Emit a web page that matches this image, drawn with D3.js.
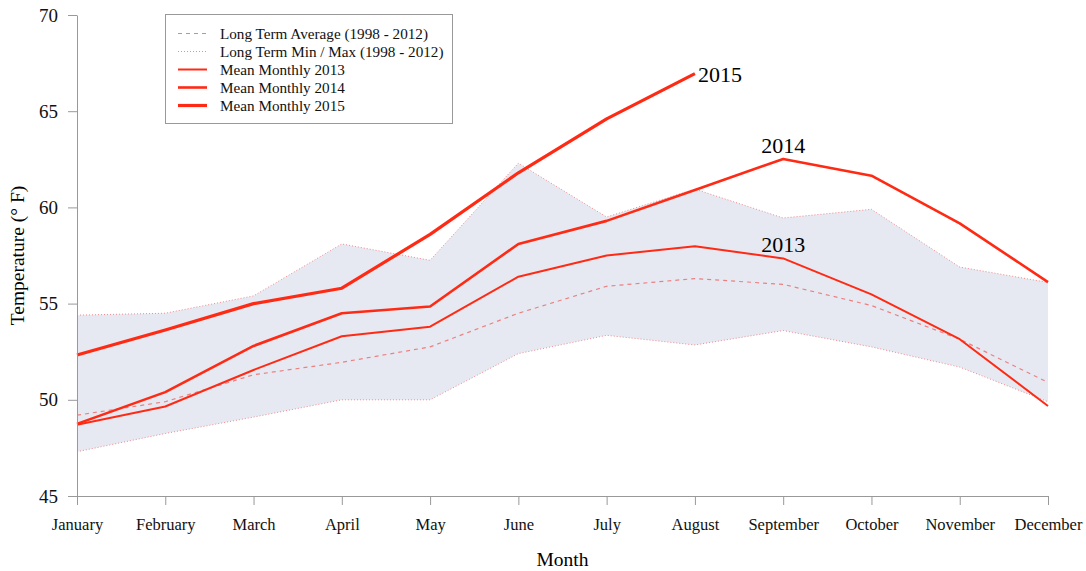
<!DOCTYPE html>
<html>
<head>
<meta charset="utf-8">
<script src="https://cdn.jsdelivr.net/npm/d3@7"></script>
<style>
  body { margin: 0; background: #fff; }
  svg { font-family: "Liberation Serif", "DejaVu Serif", serif; }
</style>
</head>
<body>
<div id="chart"></div>
<script>
// month names along the bottom
let months = ['January', 'February', 'March', 'April', 'May', 'June',
    'July', 'August', 'September', 'October', 'November', 'December'];

// long term stats 1998 - 2012
let ltAverage = [49.2, 49.9, 51.3, 51.95, 52.75, 54.5, 55.9, 56.3, 56.0, 54.9, 53.15, 50.9];
let ltMin = [47.3, 48.25, 49.1, 50.0, 50.0, 52.4, 53.35, 52.85, 53.6, 52.75, 51.7, 49.9];
let ltMax = [54.4, 54.5, 55.4, 58.1, 57.25, 62.3, 59.5, 60.95, 59.45, 59.9, 56.9, 56.1];

// mean monthly values
let mean2013 = [48.7, 49.65, 51.55, 53.3, 53.8, 56.4, 57.5, 57.98, 57.35, 55.48, 53.15, 49.68];
let mean2014 = [48.75, 50.4, 52.8, 54.5, 54.85, 58.1, 59.3, 60.9, 62.52, 61.65, 59.17, 56.12];
let mean2015 = [52.33, 53.63, 55.0, 55.8, 58.6, 61.8, 64.6, 66.95];

let yTicks = [45, 50, 55, 60, 65, 70];

let width = 1086;
let height = 571;
let margin = { top: 15, right: 38, bottom: 75, left: 77 };

let red = '#ff2a14';

let svg = d3.select('#chart')
    .append('svg')
    .attr('width', width)
    .attr('height', height);

let x = d3.scalePoint()
    .domain(months)
    .range([margin.left, width - margin.right]);

let y = d3.scaleLinear()
    .domain([45, 70])
    .range([height - margin.bottom, margin.top]);

// shaded min / max band
let area = d3.area()
    .x((d, i) => x(months[i]))
    .y0((d, i) => y(ltMin[i]))
    .y1(d => y(d));

svg.append('path')
    .datum(ltMax)
    .attr('d', area)
    .attr('fill', '#e6e9f2');

let line = d3.line()
    .x((d, i) => x(months[i]))
    .y(d => y(d));

// min / max dotted edges
[ltMin, ltMax].forEach(s => {
    svg.append('path')
        .datum(s)
        .attr('d', line)
        .attr('fill', 'none')
        .attr('stroke', '#f28a8a')
        .attr('stroke-width', 1)
        .attr('stroke-dasharray', '1 2');
});

// long term average
svg.append('path')
    .datum(ltAverage)
    .attr('d', line)
    .attr('fill', 'none')
    .attr('stroke', '#ec8080')
    .attr('stroke-width', 1.2)
    .attr('stroke-dasharray', '4 4');

// yearly lines, thicker for later years
let years = [
    { name: '2013', values: mean2013, w: 2 },
    { name: '2014', values: mean2014, w: 2.6 },
    { name: '2015', values: mean2015, w: 3.2 }
];

years.forEach(yr => {
    svg.append('path')
        .datum(yr.values)
        .attr('d', line)
        .attr('fill', 'none')
        .attr('stroke', red)
        .attr('stroke-width', yr.w)
        .attr('stroke-linejoin', 'round');
});

// year labels next to the lines
svg.append('text')
    .text('2015')
    .attr('x', x('August') + 3)
    .attr('y', y(mean2015[7]) + 8)
    .style('font-size', '22px');

svg.append('text')
    .text('2014')
    .attr('text-anchor', 'middle')
    .attr('x', x('September'))
    .attr('y', y(mean2014[8]) - 6)
    .style('font-size', '22px');

svg.append('text')
    .text('2013')
    .attr('text-anchor', 'middle')
    .attr('x', x('September'))
    .attr('y', y(mean2013[8]) - 6)
    .style('font-size', '22px');

// AXES
let yAxis = svg.append('g')
    .attr('transform', `translate(${margin.left},0)`)
    .call(d3.axisLeft(y).tickValues(yTicks).tickSize(9).tickSizeOuter(0).tickPadding(10));

yAxis.select('.domain').attr('stroke', '#999');
yAxis.selectAll('line').attr('stroke', '#999');
yAxis.selectAll('text')
    .style('font-family', 'Liberation Serif')
    .style('font-size', '19px')
    .attr('fill', '#111');

let xAxis = svg.append('g')
    .attr('transform', `translate(0,${height - margin.bottom})`)
    .call(d3.axisBottom(x).tickSize(9).tickSizeOuter(0).tickPadding(13));

xAxis.select('.domain').attr('stroke', '#999');
xAxis.selectAll('line').attr('stroke', '#999');
xAxis.selectAll('text')
    .style('font-family', 'Liberation Serif')
    .style('font-size', '16.5px')
    .attr('fill', '#111');

svg.append('text')
    .text('Month')
    .attr('text-anchor', 'middle')
    .attr('x', (margin.left + width - margin.right) / 2)
    .attr('y', 566)
    .style('font-size', '19.5px');

svg.append('text')
    .text('Temperature (° F)')
    .attr('text-anchor', 'middle')
    .attr('transform', `translate(24,${(margin.top + height - margin.bottom) / 2}) rotate(-90)`)
    .style('font-size', '19.5px');

// legend
let legendItems = [
    { label: 'Long Term Average (1998 - 2012)', color: '#ec8080', w: 1, dash: '4 4' },
    { label: 'Long Term Min / Max (1998 - 2012)', color: '#f28a8a', w: 1, dash: '1 2' },
    { label: 'Mean Monthly 2013', color: red, w: 2, dash: null },
    { label: 'Mean Monthly 2014', color: red, w: 2.6, dash: null },
    { label: 'Mean Monthly 2015', color: red, w: 3.2, dash: null }
];

let legend = svg.append('g').attr('transform', 'translate(165,14)');

legend.append('rect')
    .attr('x', 0.5)
    .attr('y', 0.5)
    .attr('width', 287)
    .attr('height', 109)
    .attr('fill', '#fff')
    .attr('stroke', '#999');

let row = legend.selectAll('.row')
    .data(legendItems)
    .enter()
    .append('g')
    .attr('class', 'row')
    .attr('transform', (d, i) => `translate(0,${19.5 + i * 18})`);

row.append('line')
    .attr('x1', 13)
    .attr('x2', 42)
    .attr('stroke', d => d.color)
    .attr('stroke-width', d => d.w)
    .attr('stroke-dasharray', d => d.dash);

row.append('text')
    .text(d => d.label)
    .attr('x', 55)
    .attr('dy', '0.33em')
    .style('font-size', '15.2px')
    .attr('fill', '#111');
</script>
</body>
</html>
